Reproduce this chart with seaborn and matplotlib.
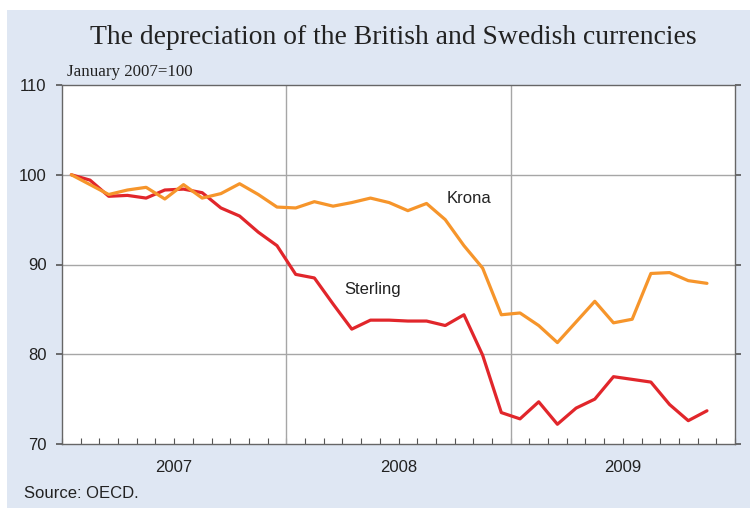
import numpy as np
import pandas as pd
import matplotlib.pyplot as plt
import seaborn as sns

# Monthly index, January 2007 = 100 (Jan 2007 - Nov 2009)
months = pd.date_range('2007-01-01', '2009-11-01', freq='MS')
sterling = [100.0, 99.4, 97.6, 97.7, 97.4, 98.3, 98.4, 98.0, 96.3, 95.4, 93.6, 92.1,
            88.9, 88.5, 85.6, 82.8, 83.8, 83.8, 83.7, 83.7, 83.2, 84.4, 79.9, 73.5,
            72.8, 74.7, 72.2, 74.0, 75.0, 77.5, 77.2, 76.9, 74.4, 72.6, 73.7]
krona = [100.0, 98.9, 97.8, 98.3, 98.6, 97.3, 98.9, 97.4, 97.9, 99.0, 97.8, 96.4,
         96.3, 97.0, 96.5, 96.9, 97.4, 96.9, 96.0, 96.8, 95.0, 92.1, 89.6, 84.4,
         84.6, 83.2, 81.3, 83.6, 85.9, 83.5, 83.9, 89.0, 89.1, 88.2, 87.9]
years = ['2007', '2008', '2009']

# position = months since Jan 2007, plotted mid-month
pos = np.arange(len(months)) + 0.5
df = pd.DataFrame({
    'pos': np.concatenate([pos, pos]),
    'value': sterling + krona,
    'series': ['Sterling'] * len(pos) + ['Krona'] * len(pos),
})

sns.set_style('white')
plt.rcParams['font.family'] = ['Liberation Sans', 'DejaVu Sans']

bg = '#dfe7f3'
fig = plt.figure(figsize=(7.5, 5.08), dpi=100)
# blue panel behind the chart
fig.patches.append(plt.Rectangle((7 / 750, 0), 1, 1 - 10 / 508, transform=fig.transFigure,
                                 facecolor=bg, edgecolor='none', zorder=-10))

ax = fig.add_axes([62 / 750, 64 / 508, 673 / 750, 359 / 508])
ax.set_facecolor('white')

for y in [80, 90, 100]:
    ax.axhline(y, color='#a6a6a6', lw=1.0, zorder=1)
for x in [12, 24]:
    ax.axvline(x, color='#a6a6a6', lw=1.0, zorder=1)

sns.lineplot(data=df, x='pos', y='value', hue='series',
             palette={'Sterling': '#e1262b', 'Krona': '#f6952b'},
             linewidth=2.3, legend=False, ax=ax, zorder=3)

ax.set_xlim(0, 36)
ax.set_ylim(70, 110)
ax.set_yticks([70, 80, 90, 100, 110])
ax.set_yticklabels(['70', '80', '90', '100', '110'], fontsize=12, color='#222222')
ax.tick_params(axis='y', which='major', direction='out', length=4, width=1.2,
               color='#555555', right=True, left=True, labelright=False, pad=7)

ax.set_xticks(np.arange(0, 37))
ax.set_xticklabels([])
ax.tick_params(axis='x', which='major', direction='in', length=4, width=0.8,
               color='#555555', bottom=True)
for i, yr in enumerate(years):
    ax.text(6 + 12 * i, -0.065, yr, transform=ax.get_xaxis_transform(),
            ha='center', va='center', fontsize=12, color='#222222')

for s in ax.spines.values():
    s.set_color('#666666')
    s.set_linewidth(1.0)

ax.set_xlabel('')
ax.set_ylabel('')

ax.text(20.6, 97.3, 'Krona', fontsize=12, color='#222222', va='center')
ax.text(15.1, 87.2, 'Sterling', fontsize=12, color='#222222', va='center')

fig.text(393 / 750, 1 - 38 / 508, 'The depreciation of the British and Swedish currencies',
         ha='center', va='center', fontsize=19.9, family='Liberation Serif', color='#222222')
fig.text(67 / 750, 1 - 72 / 508, 'January 2007=100', ha='left', va='center',
         fontsize=12.2, family='Liberation Serif', color='#222222')
fig.text(24 / 750, 1 - 493 / 508, 'Source: OECD.', ha='left', va='center',
         fontsize=12, color='#222222')

fig.savefig('out.png', dpi=100)
